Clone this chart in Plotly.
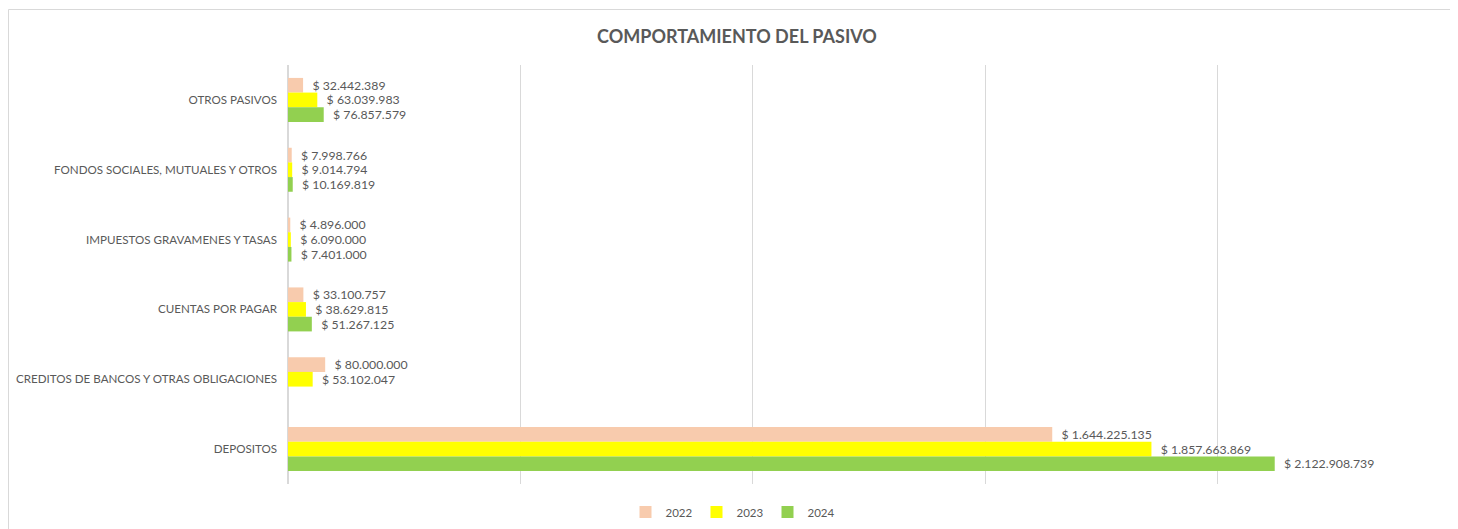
import plotly.graph_objects as go

categories = [
    "OTROS PASIVOS",
    "FONDOS SOCIALES, MUTUALES Y OTROS",
    "IMPUESTOS GRAVAMENES Y TASAS",
    "CUENTAS POR PAGAR",
    "CREDITOS DE BANCOS Y OTRAS OBLIGACIONES",
    "DEPOSITOS",
]
years = ["2022", "2023", "2024"]
v2022 = [32442389, 7998766, 4896000, 33100757, 80000000, 1644225135]
v2023 = [63039983, 9014794, 6090000, 38629815, 53102047, 1857663869]
v2024 = [76857579, 10169819, 7401000, 51267125, None, 2122908739]
colors = ["#F8CBAD", "#FFFF00", "#92D050"]

# page has an 8px body margin, so the figure is drawn 8px right/down
OFF = 8
W, H = 1458 - OFF, 529 - OFF
L, T = 288 - OFF, 65 - OFF
pw, ph = 1162, 419
R, B = W - L - pw, H - T - ph
FONT = "Lato"


def fmt(v):
    if v is None:
        return ""
    return "\u00a0\u00a0$ " + f"{v:,}".replace(",", ".")


fig = go.Figure()
for yr, vals, col in zip(years, [v2022, v2023, v2024], colors):
    fig.add_trace(go.Bar(
        y=categories, x=vals, name=yr, orientation="h",
        marker=dict(color=col, line=dict(width=0)),
        text=[fmt(v) for v in vals], textposition="outside",
        constraintext="none",
        textfont=dict(color="#595959", size=12.3, family=FONT),
        cliponaxis=False,
    ))


def px_x(x):  # screen px -> paper
    return (x - OFF - L) / pw


def px_y(y):
    return (H - B - (y - OFF)) / ph


shapes = [dict(type="rect", xref="paper", yref="paper",
               x0=px_x(8.5), x1=px_x(1470), y0=px_y(545), y1=px_y(9.5),
               line=dict(color="#D9D9D9", width=1), fillcolor="rgba(0,0,0,0)")]

fig.update_layout(
    width=W, height=H,
    margin=dict(l=L, r=R, t=T, b=B, autoexpand=False),
    paper_bgcolor="white", plot_bgcolor="white",
    barmode="group", bargap=0.37, bargroupgap=0,
    font=dict(family=FONT, color="#595959", size=12),
    title=dict(text="<b>COMPORTAMIENTO DEL PASIVO</b>", x=(737 - OFF) / W, xanchor="center",
               y=1 - 29 / H, yanchor="middle",
               font=dict(size=18, color="#595959", family=FONT)),
    xaxis=dict(range=[0, 2500000000], dtick=500000000, showticklabels=False,
               showgrid=True, gridcolor="#D9D9D9", gridwidth=1, zeroline=True,
               zerolinecolor="#D9D9D9", showline=False, fixedrange=True,
               automargin=False),
    yaxis=dict(autorange="reversed", showgrid=False, showline=False, ticks="",
               tickfont=dict(size=11.6, color="#595959", family=FONT),
               ticklabelstandoff=10, automargin=False),
    legend=dict(orientation="h", x=px_x(732), xanchor="center", y=px_y(512),
                yanchor="middle", font=dict(size=11.5, color="#595959", family=FONT),
                itemwidth=30, entrywidth=26, entrywidthmode="pixels",
                traceorder="normal"),
    showlegend=True,
    shapes=shapes,
)

fig.write_html("out.html")
